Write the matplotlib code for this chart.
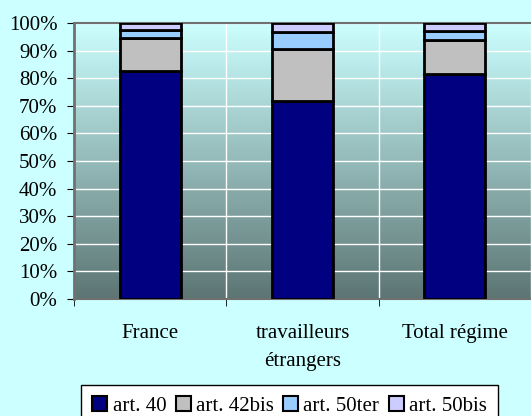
import matplotlib
matplotlib.use("Agg")
import matplotlib.pyplot as plt
import numpy as np
from matplotlib.colors import LinearSegmentedColormap
from matplotlib.patches import Patch

# ---------------- DATA ---------------- #

categories = ["France", "travailleurs\nétrangers", "Total régime"]
series = ["art. 40", "art. 42bis", "art. 50ter", "art. 50bis"]
art40 = [82.7, 71.7, 81.5]
art42bis = [11.8, 19.0, 12.3]
art50ter = [3.0, 6.2, 3.3]
art50bis = [2.5, 3.1, 2.9]
colors = ["#000080", "#C0C0C0", "#99CCFF", "#CCCCFF"]

# ---------------- DRAW ---------------- #

plt.rcParams["font.family"] = ["Liberation Serif", "DejaVu Serif"]
FS = 15

fig = plt.figure(figsize=(5.31, 4.16), dpi=100)
fig.patch.set_facecolor("#CCFFFF")
ax = fig.add_axes([74 / 531, 1 - 299 / 416, 1 - 74 / 531, (299 - 23) / 416])

# gradient background
grad = LinearSegmentedColormap.from_list("bg", ["#5C7573", "#CCFFFF"])
ax.imshow(np.linspace(0, 1, 256).reshape(-1, 1), cmap=grad, origin="lower",
          aspect="auto", extent=[0, 1, 0, 1], transform=ax.transAxes, zorder=0)

x = np.arange(len(categories))
bottom = np.zeros(len(categories))
for vals, col, name in zip([art40, art42bis, art50ter, art50bis], colors, series):
    ax.bar(x, vals, 0.4, bottom=bottom, color=col, edgecolor="black",
           linewidth=2, zorder=3, label=name)
    bottom += np.array(vals)

ax.set_xlim(-0.5, len(categories) - 0.5)
ax.set_ylim(0, 100)
ax.set_yticks(np.arange(0, 101, 10))
ax.set_yticklabels([f"{v}%" for v in range(0, 101, 10)], fontsize=FS)
ax.set_xticks(x)
ax.set_xticklabels(categories, fontsize=FS, linespacing=1.65, va="top")
ax.tick_params(axis="x", length=0, pad=18)
ax.set_xticks([-0.5, 0.5, 1.5, 2.5], minor=True)
ax.tick_params(axis="x", which="minor", length=5, color="black")
ax.tick_params(axis="y", length=5, color="black", pad=7)

ax.grid(True, axis="y", color="white", linewidth=1, zorder=1)
ax.grid(True, axis="x", which="minor", color="white", linewidth=1, zorder=1)
for s in ["left", "bottom", "top"]:
    ax.spines[s].set_color("#707070")
    ax.spines[s].set_linewidth(1.5)
ax.spines["left"].set_linewidth(2)
ax.spines["right"].set_visible(False)

handles = [Patch(facecolor=c, edgecolor="black", linewidth=1.5) for c in colors]
leg = fig.legend(handles, series, loc="upper center",
                 bbox_to_anchor=(289.5 / 531, 1 - 385 / 416),
                 ncol=4, fontsize=FS, frameon=True, fancybox=False,
                 handlelength=0.72, handleheight=0.72, handletextpad=0.25,
                 columnspacing=0.45, borderpad=0.55, borderaxespad=0)
leg.get_frame().set_edgecolor("black")
leg.get_frame().set_facecolor("white")
leg.get_frame().set_alpha(1)
leg.get_frame().set_linewidth(1)

fig.savefig("out.png", dpi=100, facecolor=fig.get_facecolor())
